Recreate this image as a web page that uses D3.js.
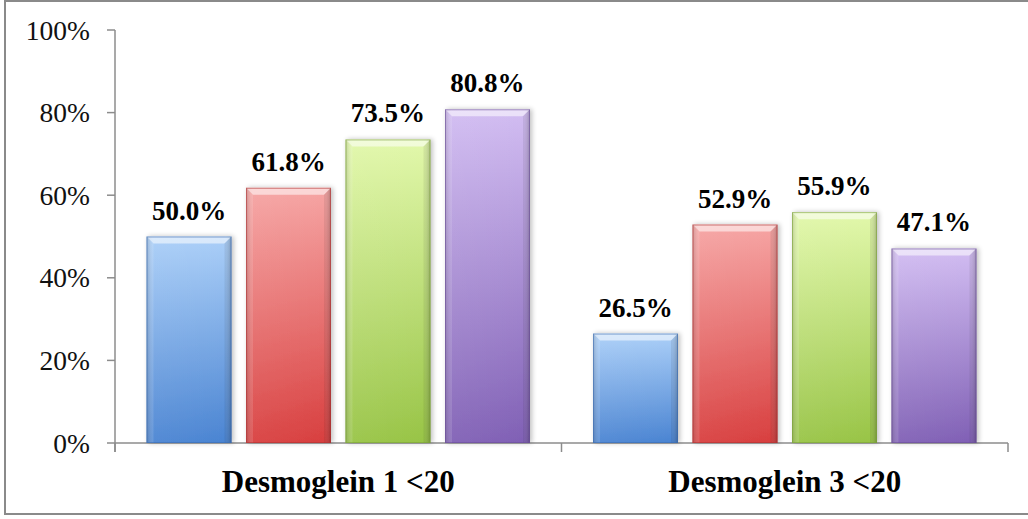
<!DOCTYPE html>
<html><head><meta charset="utf-8">
<script src="https://cdn.jsdelivr.net/npm/d3@7"></script>
<style>html,body{margin:0;padding:0;background:#fff;overflow:hidden}</style>
</head><body>
<svg id="c" width="1028" height="519"></svg>
<script>
const categories = ["Desmoglein 1 <20", "Desmoglein 3 <20"];
const seriesNames = ["S1", "S2", "S3", "S4"];
const values = [
  [50.0, 61.8, 73.5, 80.8],
  [26.5, 52.9, 55.9, 47.1]
];
const yTicks = [0, 20, 40, 60, 80, 100];
const seriesTop = ["#abcff8", "#f6a5a4", "#e2f8ab", "#d2bdf2"];
const seriesBottom = ["#4a84d2", "#d83f3f", "#98c446", "#8060b5"];
const seriesEdge = ["#3c6cb0", "#b03434", "#7aa038", "#6a4f98"];

(function () {
const svg = d3.select("#c");
const pl = 115, pr = 1008, pt = 30, pb = 443;
const y = d3.scaleLinear().domain([0, 100]).range([pb, pt]);
const x0 = d3.scaleBand().domain(categories).range([pl, pr]).padding(0);
const x1 = d3.scaleBand().domain(seriesNames).range([0, x0.bandwidth()])
  .paddingInner(0.146).paddingOuter(0.317);

// outer frame
svg.append("rect").attr("x", 5).attr("y", 1).attr("width", 1040).attr("height", 513)
  .attr("fill", "none").attr("stroke", "#8a8a8a").attr("stroke-width", 2);

const defs = svg.append("defs");
seriesNames.forEach((s, i) => {
  const g = defs.append("linearGradient").attr("id", "g" + i).attr("x1", 0).attr("y1", 0).attr("x2", 0).attr("y2", 1);
  g.append("stop").attr("offset", "0%").attr("stop-color", seriesTop[i]);
  g.append("stop").attr("offset", "100%").attr("stop-color", seriesBottom[i]);
  const h = defs.append("linearGradient").attr("id", "h" + i).attr("x1", 0).attr("y1", 0).attr("x2", 1).attr("y2", 0);
  h.append("stop").attr("offset", "0%").attr("stop-color", "#000").attr("stop-opacity", 0.18);
  h.append("stop").attr("offset", "8%").attr("stop-color", "#fff").attr("stop-opacity", 0.05);
  h.append("stop").attr("offset", "92%").attr("stop-color", "#fff").attr("stop-opacity", 0.0);
  h.append("stop").attr("offset", "100%").attr("stop-color", "#000").attr("stop-opacity", 0.2);
});
const sh = defs.append("filter").attr("id", "sh").attr("x", "-20%").attr("y", "-20%").attr("width", "140%").attr("height", "140%");
sh.append("feGaussianBlur").attr("in", "SourceAlpha").attr("stdDeviation", 2.5).attr("result", "b");
sh.append("feOffset").attr("in", "b").attr("dx", 2).attr("dy", 0).attr("result", "o");
sh.append("feComponentTransfer").attr("in", "o").attr("result", "oa").append("feFuncA").attr("type", "linear").attr("slope", 0.25);
const m = sh.append("feMerge"); m.append("feMergeNode").attr("in", "oa"); m.append("feMergeNode").attr("in", "SourceGraphic");

// axes
const axisColor = "#8c8c8c";
svg.append("line").attr("x1", pl).attr("x2", pl).attr("y1", y(100)).attr("y2", pb + 9)
  .attr("stroke", axisColor).attr("stroke-width", 1.5);
svg.append("line").attr("x1", pl).attr("x2", pr).attr("y1", pb).attr("y2", pb)
  .attr("stroke", axisColor).attr("stroke-width", 1.5);
yTicks.forEach(t => {
  svg.append("line").attr("x1", pl - 8).attr("x2", pl).attr("y1", y(t)).attr("y2", y(t))
    .attr("stroke", axisColor).attr("stroke-width", 1.5);
  svg.append("text").attr("x", 90).attr("y", y(t)).attr("dy", "0.35em").attr("text-anchor", "end")
    .attr("font-family", "Liberation Serif").attr("font-size", 27.5).attr("fill", "#111").text(t + "%");
});
const bounds = [pl].concat(categories.map(c => x0(c) + x0.bandwidth()));
bounds.forEach(bx => {
  svg.append("line").attr("x1", bx).attr("x2", bx).attr("y1", pb).attr("y2", pb + 9)
    .attr("stroke", axisColor).attr("stroke-width", 1.5);
});

// bars
categories.forEach((c, ci) => {
  const g = svg.append("g").attr("transform", `translate(${x0(c)},0)`);
  seriesNames.forEach((s, si) => {
    const v = values[ci][si];
    const bx = x1(s), bw = x1.bandwidth(), by = y(v), bh = y(0) - y(v), b0 = y(0);
    const bar = g.append("g").attr("filter", "url(#sh)");
    bar.append("rect").attr("x", bx).attr("y", by).attr("width", bw).attr("height", bh)
      .attr("fill", `url(#g${si})`);
    bar.append("rect").attr("x", bx).attr("y", by).attr("width", bw).attr("height", bh)
      .attr("fill", `url(#h${si})`);
    const b = 7;
    bar.append("path").attr("d", `M${bx},${by} L${bx + bw},${by} L${bx + bw - b},${by + b} L${bx + b},${by + b} Z`)
      .attr("fill", "#fff").attr("opacity", 0.55);
    bar.append("path").attr("d", `M${bx},${by} L${bx + b},${by + b} L${bx + b},${b0} L${bx},${b0} Z`)
      .attr("fill", "#fff").attr("opacity", 0.12);
    bar.append("path").attr("d", `M${bx + bw},${by} L${bx + bw - b},${by + b} L${bx + bw - b},${b0} L${bx + bw},${b0} Z`)
      .attr("fill", "#000").attr("opacity", 0.07);
    bar.append("rect").attr("x", bx + 0.5).attr("y", by + 0.5).attr("width", bw - 1).attr("height", bh - 1)
      .attr("fill", "none").attr("stroke", seriesEdge[si]).attr("stroke-opacity", 0.6).attr("stroke-width", 1);
    g.append("text").attr("x", bx + bw / 2).attr("y", by - 17).attr("text-anchor", "middle")
      .attr("font-family", "Liberation Serif").attr("font-weight", "bold").attr("font-size", 27)
      .attr("fill", "#000").text(v.toFixed(1) + "%");
  });
  svg.append("text").attr("x", x0(c) + x0.bandwidth() / 2).attr("y", 492).attr("text-anchor", "middle")
    .attr("font-family", "Liberation Serif").attr("font-weight", "bold").attr("font-size", 31)
    .attr("fill", "#000").text(c);
});
})();
</script>
</body></html>
